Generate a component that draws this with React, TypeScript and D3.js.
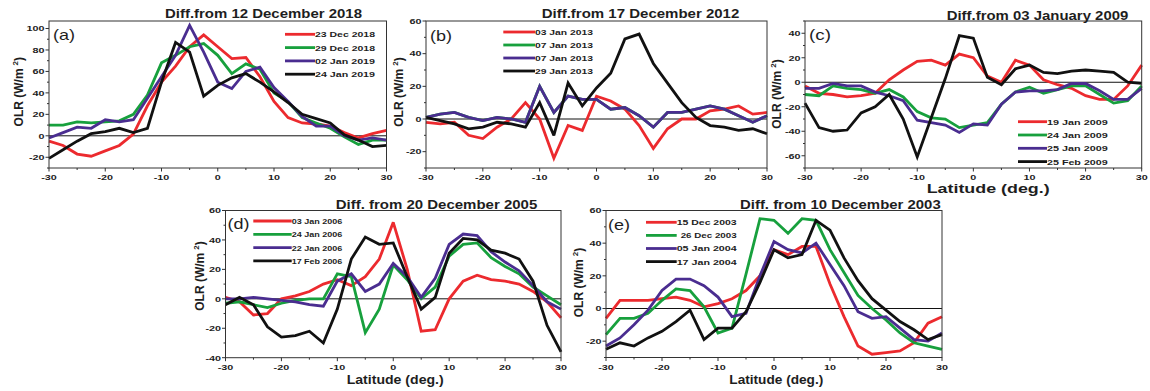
import React from 'react';
import * as d3 from 'd3';

// ---------- shared categories ----------
const latitudes = [-30, -27.5, -25, -22.5, -20, -17.5, -15, -12.5, -10, -7.5, -5, -2.5, 0, 2.5, 5, 7.5, 10, 12.5, 15, 17.5, 20, 22.5, 25, 27.5, 30];
const xMajorTicks = [-30, -20, -10, 0, 10, 20, 30];
const xMinorTicks = [-25, -15, -5, 5, 15, 25];

// ---------- panel (a) ----------
const aNames = ['23 Dec 2018', '29 Dec 2018', '02 Jan 2019', '24 Jan 2019'];
const a23Dec2018 = [-5, -9, -17, -19, -14, -9, 1.5, 28, 50, 65, 83, 94, 83, 72, 73, 55, 32, 17, 12, 11, 9, 3, -2, 2, 5];
const a29Dec2018 = [10, 10, 13, 12, 13, 14, 20, 38, 68, 75, 83, 86, 75, 58, 67, 62, 40, 32, 17, 12, 7, -1, -8, -4, -4];
const a02Jan2019 = [-2, 3, 8, 7, 15, 13, 15, 35, 55, 75, 103, 78, 50, 44, 60, 64, 45, 32, 18, 9, 9, 0, -4, -2, -4];
const a24Jan2019 = [-21, -13, -5, 2, 4, 7, 3, 7, 50, 87, 78, 37, 47, 54, 58, 50, 41, 31, 20, 16, 12, 1, -4, -10, -9];
const aYTicks = [-20, 0, 20, 40, 60, 80, 100];

// ---------- panel (b) ----------
const bNames = ['03 Jan 2013', '07 Jan 2013', '07 Jan 2013', '29 Jan 2013'];
const b03Jan2013 = [-2, -3, -2, -10, -12, -5, 0, 10, 0, -24, -4, -7, 14, 11, 6, -4, -18, -6, 0, 0, 5, 6, 8, 3, 4];
const b07Jan2013g = [1, 3, 4, 1, -1, 1, 0, -2, 20, 4, 14, 12, 12, 6, 7, 2, -5, 4, 4, 6, 8, 6, 2, -2, 2];
const b07Jan2013p = [1, 3, 4, 1, -1, 1, 0, -2, 20, 4, 14, 12, 12, 6, 7, 2, -5, 4, 4, 6, 8, 6, 2, -2, 2];
const b29Jan2013 = [1, -1, -3, -6, -5, -2, -3, -5, 10, -10, 22, 8, 19, 28, 49, 52, 34, 22, 10, 1, -4, -5, -7, -6, -9];
const bYTicks = [-20, 0, 20, 40, 60];

// ---------- panel (c) ----------
const cNames = ['19 Jan 2009', '24 Jan 2009', '25 Jan 2009', '25 Feb 2009'];
const c19Jan2009 = [-3, -9, -10, -12, -11, -9, 2, 10, 17, 18, 14, 23, 20, 5, 0, 18, 14, 2, -2, -5, -11, -14, -14, -3, 14];
const c24Jan2009 = [-10, -11, -3, -5, -6, -9, -6, -12, -24, -29, -30, -37, -35, -33, -18, -8, -4, -9, -6, -3, -3, -10, -17, -15, -3];
const c25Jan2009 = [-5, -5, -1, -3, -3, -8, -11, -15, -31, -33, -35, -41, -34, -35, -18, -8, -7, -7, -6, -1, -1, -7, -14, -14, -5];
const c25Feb2009 = [-17, -37, -40, -39, -25, -20, -10, -30, -61, -29, 3, 38, 36, 4, -2, 11, 14, 8, 7, 9, 10, 9, 8, 0, -1];
const cYTicks = [-60, -40, -20, 0, 20, 40];

// ---------- panel (d) ----------
const dNames = ['03 Jan 2006', '24 Jan 2006', '22 Jan 2006', '17 Feb 2006'];
const d03Jan2006 = [1, -2, -11, -10, 0, 2, 5, 10, 13, 9, 15, 27, 52, 20, -22, -21, 0, 12, 16, 13, 12, 10, 5, -2, -13];
const d24Jan2006 = [-3, -2, -4, -6, -3, -1, 0, 0, 17, 15, -23, -7, 23, 13, 0, 8, 29, 37, 38, 28, 22, 17, 8, 2, -4];
const d22Jan2006 = [0, 0, 1, 0, -1, -2, -4, -5, 12, 17, 5, 10, 24, 15, 1, 14, 37, 44, 43, 32, 25, 19, 9, -2, -7];
const d17Feb2006 = [-4, 1, -4, -19, -26, -25, -22, -30, -7, 27, 42, 37, 38, 15, -7, 1, 31, 41, 40, 33, 31, 27, 12, -18, -36];
const dYTicks = [-40, -20, 0, 20, 40, 60];

// ---------- panel (e) ----------
const eNames = ['15 Dec 2003', ' 26 Dec 2003', '05 Jan 2004', '17 Jan 2004'];
const e15Dec2003 = [-6, 5, 5, 5, 6, 7, 5, 1, 3, 6, 11, 20, 36, 33, 38, 38, 15, -5, -23, -28, -27, -26, -21, -9, -5];
const e26Dec2003 = [-16, -6, -6, -3, 5, 12, 11, 1, -15, -12, 21, 55, 54, 46, 55, 54, 36, 22, 8, 0, -7, -15, -21, -23, -25];
const e05Jan2004 = [-23, -18, -10, -1, 11, 18, 18, 14, 7, -5, -3, 20, 41, 36, 34, 40, 27, 14, -2, -6, -5, -12, -19, -20, -15];
const e17Jan2004 = [-25, -21, -23, -18, -14, -8, -1, -19, -12, -12, -2, 16, 36, 31, 33, 54, 48, 31, 17, 6, -1, -8, -13, -19, -16];
const eYTicks = [-20, 0, 20, 40, 60];

// ---------- styles ----------
const COLORS = ['#ec2a2e', '#17a03d', '#4a2d90', '#111111'];
const FONT = "'Liberation Sans', Arial, Helvetica, sans-serif";
const TEXT = '#1e1e1e';

type Legend = { x1: number; x2: number; y0: number; dy: number; textW: number };
type PanelCfg = {
  letter: string;
  left: number; right: number; top: number; bottom: number;
  yDomain: [number, number];
  yTicks: number[];
  names: string[];
  series: number[][];
  title: string; titleX: number; titleW: number; titleY: number;
  letterX: number; letterY: number;
  ylabX: number; ylabY: number;
  xlab?: { x: number; w: number; y: number; fs: number };
  legend: Legend;
};

const panels: PanelCfg[] = [
  {
    letter: '(a)', left: 49, right: 386.5, top: 21, bottom: 168, yDomain: [-30, 107], yTicks: aYTicks,
    names: aNames, series: [a23Dec2018, a29Dec2018, a02Jan2019, a24Jan2019],
    title: 'Diff.from 12 December 2018', titleX: 165, titleW: 197, titleY: 18,
    letterX: 53, letterY: 39.5, ylabX: 22.5, ylabY: 91.7,
    legend: { x1: 285, x2: 315, y0: 34.3, dy: 13.3, textW: 60 },
  },
  {
    letter: '(b)', left: 426, right: 767, top: 21, bottom: 168, yDomain: [-30, 60], yTicks: bYTicks,
    names: bNames, series: [b03Jan2013, b07Jan2013g, b07Jan2013p, b29Jan2013],
    title: 'Diff.from 17 December 2012', titleX: 541.7, titleW: 197.6, titleY: 18,
    letterX: 430, letterY: 40.5, ylabX: 402.5, ylabY: 92,
    legend: { x1: 503.3, x2: 535, y0: 32, dy: 13, textW: 58 },
  },
  {
    letter: '(c)', left: 805, right: 1141.7, top: 21, bottom: 168, yDomain: [-70, 50], yTicks: cYTicks,
    names: cNames, series: [c19Jan2009, c24Jan2009, c25Jan2009, c25Feb2009],
    title: 'Diff.from 03 January 2009', titleX: 946.7, titleW: 181.6, titleY: 19.5,
    letterX: 809, letterY: 40, ylabX: 780.5, ylabY: 94,
    xlab: { x: 926.7, w: 123, y: 192.5, fs: 12.5 },
    legend: { x1: 1018, x2: 1047, y0: 121.7, dy: 13.3, textW: 60.7 },
  },
  {
    letter: '(d)', left: 225.5, right: 561, top: 210.5, bottom: 357.7, yDomain: [-40, 60], yTicks: dYTicks,
    names: dNames, series: [d03Jan2006, d24Jan2006, d22Jan2006, d17Feb2006],
    title: 'Diff. from 20 December 2005', titleX: 335.7, titleW: 201.6, titleY: 208.5,
    letterX: 227.5, letterY: 229, ylabX: 204, ylabY: 276,
    xlab: { x: 346.7, w: 97, y: 384, fs: 13 },
    legend: { x1: 253.3, x2: 291.7, y0: 221, dy: 13.3, textW: 50.6 },
  },
  {
    letter: '(e)', left: 606, right: 942, top: 210.5, bottom: 357.5, yDomain: [-30, 60], yTicks: eYTicks,
    names: eNames, series: [e15Dec2003, e26Dec2003, e05Jan2004, e17Jan2004],
    title: 'Diff. from 10 December 2003', titleX: 740, titleW: 200.7, titleY: 209,
    letterX: 608, letterY: 230, ylabX: 582.5, ylabY: 282.5,
    xlab: { x: 729.3, w: 94, y: 384, fs: 13 },
    legend: { x1: 646, x2: 676.7, y0: 222.3, dy: 13.1, textW: 60 },
  },
];

function Panel({ p }: { p: PanelCfg }) {
  const x = d3.scaleLinear().domain([-30, 30]).range([p.left, p.right]);
  const y = d3.scaleLinear().domain(p.yDomain).range([p.bottom, p.top]);
  const line = d3.line<number>().x((_, i) => x(latitudes[i])).y((v) => y(v));
  const step = p.yTicks[1] - p.yTicks[0];
  const yMinor = p.yTicks.map((t) => t + step / 2).concat([p.yTicks[0] - step / 2])
    .filter((t) => t >= p.yDomain[0] && t <= p.yDomain[1] && !p.yTicks.includes(t));
  return (
    <g>
      <line x1={p.left} x2={p.right} y1={y(0)} y2={y(0)} stroke="#111" strokeWidth={1} />
      {p.series.map((s, i) => (
        <path key={i} d={line(s) || ''} fill="none" stroke={COLORS[i]} strokeWidth={2.8} strokeLinejoin="miter" strokeMiterlimit={3} />
      ))}
      <rect x={p.left} y={p.top} width={p.right - p.left} height={p.bottom - p.top} fill="none" stroke="#333" strokeWidth={1} />
      {p.yTicks.map((t) => (
        <g key={'y' + t}>
          <line x1={p.left - 3.5} x2={p.left} y1={y(t)} y2={y(t)} stroke="#333" strokeWidth={1} />
          <text transform={`translate(${p.left - 4.5},${y(t) + 2.8}) scale(1.35,1)`} textAnchor="end" fontSize={8} fontWeight="bold" fontFamily={FONT} fill={TEXT}>{t}</text>
        </g>
      ))}
      {yMinor.map((t) => (
        <line key={'ym' + t} x1={p.left - 2} x2={p.left} y1={y(t)} y2={y(t)} stroke="#333" strokeWidth={1} />
      ))}
      {xMajorTicks.map((t) => (
        <g key={'x' + t}>
          <line x1={x(t)} x2={x(t)} y1={p.bottom} y2={p.bottom + 3.5} stroke="#333" strokeWidth={1} />
          <text transform={`translate(${x(t)},${p.bottom + 12}) scale(1.35,1)`} textAnchor="middle" fontSize={8} fontWeight="bold" fontFamily={FONT} fill={TEXT}>{t}</text>
        </g>
      ))}
      {xMinorTicks.map((t) => (
        <line key={'xm' + t} x1={x(t)} x2={x(t)} y1={p.bottom} y2={p.bottom + 2} stroke="#333" strokeWidth={1} />
      ))}
      <text x={p.titleX} y={p.titleY} fontSize={12.5} fontWeight="bold" fontFamily={FONT} fill={TEXT} textLength={p.titleW} lengthAdjust="spacingAndGlyphs">{p.title}</text>
      <text x={p.letterX} y={p.letterY} fontSize={15} fontFamily={FONT} fill={TEXT} textLength={22} lengthAdjust="spacingAndGlyphs">{p.letter}</text>
      <text transform={`translate(${p.ylabX},${p.ylabY}) rotate(-90)`} textAnchor="middle" fontSize={12} fontWeight="bold" fontFamily={FONT} fill={TEXT}>
        OLR (W/m<tspan dx={3} dy={-5} fontSize={8}>2</tspan><tspan dy={5}>)</tspan>
      </text>
      {p.xlab && (
        <text x={p.xlab.x} y={p.xlab.y} fontSize={p.xlab.fs} fontWeight="bold" fontFamily={FONT} fill={TEXT} textLength={p.xlab.w} lengthAdjust="spacingAndGlyphs">Latitude (deg.)</text>
      )}
      {p.names.map((n, i) => {
        const ly = p.legend.y0 + i * p.legend.dy;
        const lead = n.startsWith(' ');
        const tw = lead ? p.legend.textW - 4 : p.legend.textW;
        const tx = lead ? p.legend.x2 + 4 : p.legend.x2;
        return (
          <g key={'l' + i}>
            <line x1={p.legend.x1} x2={p.legend.x2} y1={ly} y2={ly} stroke={COLORS[i]} strokeWidth={2.8} />
            <text x={tx} y={ly + 2.9} fontSize={8} fontWeight="bold" fontFamily={FONT} fill={TEXT} textLength={tw} lengthAdjust="spacingAndGlyphs">{n.trim()}</text>
          </g>
        );
      })}
    </g>
  );
}

export default function App() {
  return (
    <svg width={1150} height={391} style={{ position: 'absolute', left: 0, top: 0, background: '#fff' }}>
      <rect x={0} y={0} width={1150} height={391} fill="#fff" />
      {panels.map((p) => (
        <Panel key={p.letter} p={p} />
      ))}
    </svg>
  );
}
